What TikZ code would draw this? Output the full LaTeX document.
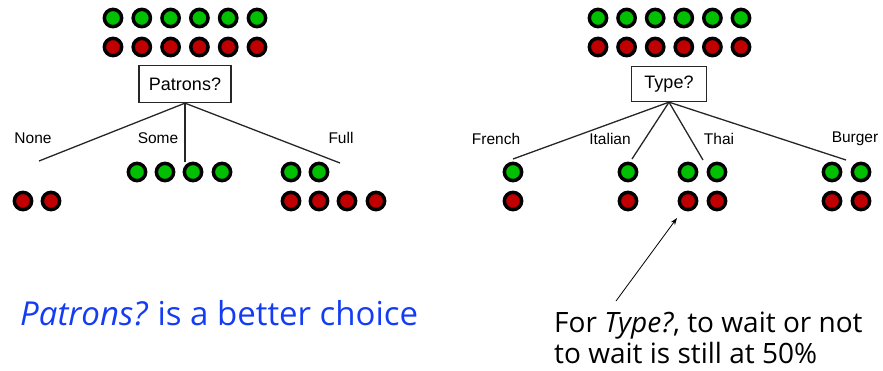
\documentclass[tikz,border=0pt]{standalone}
\usepackage{fontspec}
\setmainfont{Open Sans}
\newfontfamily\labelfont{Liberation Sans}
\usetikzlibrary{arrows.meta}

\definecolor{posgreen}{RGB}{0,192,0}
\definecolor{negred}{RGB}{192,0,0}
\definecolor{notecolor}{RGB}{20,60,245}

\tikzset{
  exdot/.style={circle, draw=black, line width=3.5pt, minimum size=17.3pt, inner sep=0pt},
  posdot/.style={exdot, fill=posgreen},
  negdot/.style={exdot, fill=negred},
  attrbox/.style={draw=black!85, line width=1.3pt, fill=white, inner sep=0pt,
               font=\labelfont\fontsize{18}{20}\selectfont},
  branch/.style={line width=1.3pt, draw=black!85},
  vlabel/.style={font=\labelfont\fontsize{15.5}{17}\selectfont, inner sep=0pt},
  remarktext/.style={inner sep=0pt, anchor=base west, align=left}
}

\begin{document}
\begin{tikzpicture}[x=1pt,y=-1pt]
\useasboundingbox (0,0) rectangle (883,370);

% ---------- left tree: Patrons? ----------
\foreach \i in {0,...,5} {
  \node[posdot] (lp\i) at ({113+28.8*\i},18) {};
  \node[negdot] (ln\i) at ({113+28.8*\i},47) {};
}
\node[attrbox, minimum width=92pt, minimum height=37pt] (patrons) at (185,84) {Patrons?};

\coordinate (noneend) at (39,161);
\coordinate (someend) at (185,162);
\coordinate (fullend) at (340,163);
\draw[branch] (patrons.south) -- (noneend);
\draw[branch] (patrons.south) -- (someend);
\draw[branch] (patrons.south) -- (fullend);

\node[vlabel] (lnone) at (33,138) {None};
\node[vlabel] (lsome) at (158,138) {Some};
\node[vlabel] (lfull) at (341,138) {Full};

\node[negdot] (nonen0) at (23,201) {};
\node[negdot] (nonen1) at (51,201) {};

\foreach \x [count=\k] in {137,165,193,222}
  \node[posdot] (somep\k) at (\x,172) {};

\node[posdot] (fullp1) at (291,172) {};
\node[posdot] (fullp2) at (319,172) {};
\foreach \x [count=\k] in {291,319,347,376}
  \node[negdot] (fulln\k) at (\x,201) {};

% ---------- right tree: Type? ----------
\foreach \i in {0,...,5} {
  \node[posdot] (rp\i) at ({598+28.6*\i},18) {};
  \node[negdot] (rn\i) at ({598+28.6*\i},47) {};
}
\node[attrbox, minimum width=75pt, minimum height=35pt] (type) at (669,84) {Type?};

\coordinate (frenchend) at (513,159);
\coordinate (italianend) at (632,159);
\coordinate (thaiend) at (703,160);
\coordinate (burgerend) at (846,160);
\draw[branch] (type.south) -- (frenchend);
\draw[branch] (type.south) -- (italianend);
\draw[branch] (type.south) -- (thaiend);
\draw[branch] (type.south) -- (burgerend);

\node[vlabel] (lfrench) at (496,139) {French};
\node[vlabel] (litalian) at (610,139) {Italian};
\node[vlabel] (lthai) at (719,139) {Thai};
\node[vlabel] (lburger) at (855,139) {Burger};

\node[posdot] (frenchp) at (513,172) {};
\node[negdot] (frenchn) at (513,201) {};
\node[posdot] (italianp) at (628,172) {};
\node[negdot] (italiann) at (628,201) {};
\node[posdot] (thaip1) at (688,172) {};
\node[posdot] (thaip2) at (717,172) {};
\node[negdot] (thain1) at (688,201) {};
\node[negdot] (thain2) at (717,201) {};
\node[posdot] (burgerp1) at (832,172) {};
\node[posdot] (burgerp2) at (861,172) {};
\node[negdot] (burgern1) at (832,201) {};
\node[negdot] (burgern2) at (861,201) {};

% ---------- remarks ----------
\node[remarktext, text=notecolor, font=\fontsize{33}{38}\selectfont] (verdict) at (20,325)
  {\textit{Patrons?}\hspace{-2pt} is a better choice};

% base anchor of a two-line node sits on the last line
\node[remarktext, font=\fontsize{28}{31}\selectfont] (remark) at (554,363)
  {For \textit{Type?}, to wait or not\\to wait is still at 50\%};

\coordinate (arrowtip) at (677,218);
\coordinate (arrowtail) at (616,301);
\draw[line width=0.8pt, -{Stealth[length=7pt,width=5pt]}] (arrowtail) -- (arrowtip);
\end{tikzpicture}
\end{document}
